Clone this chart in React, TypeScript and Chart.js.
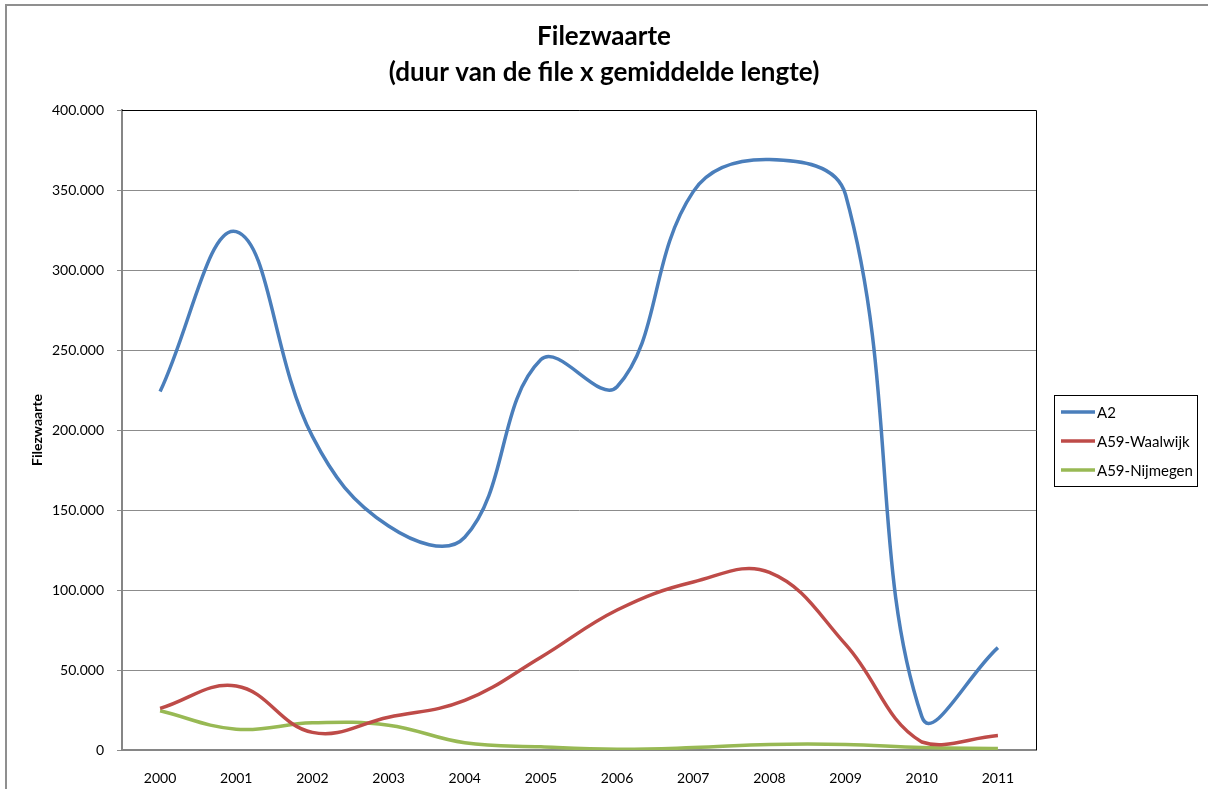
import React, { useEffect, useRef } from 'react';
import { Chart, registerables } from 'chart.js';

Chart.register(...registerables);

const years = ['2000', '2001', '2002', '2003', '2004', '2005', '2006', '2007', '2008', '2009', '2010', '2011'];
const a2Values = [224000, 324000, 196000, 140000, 133000, 244000, 227000, 349000, 369000, 347000, 21000, 64000];
const waalwijkValues = [26000, 40000, 11000, 20500, 31000, 58000, 87500, 105000, 111000, 66000, 5000, 9000];
const nijmegenValues = [24500, 13000, 17000, 15500, 4500, 2000, 500, 1500, 3500, 3500, 1500, 1000];
const seriesNames = ['A2', 'A59-Waalwijk', 'A59-Nijmegen'];
const seriesColors = ['#4A7EBB', '#BE4B48', '#98B954'];
const titleLines = ['Filezwaarte', '(duur van de file x gemiddelde lengte)'];
const yAxisTitle = 'Filezwaarte';
const yMin = 0;
const yMax = 400000;
const yStep = 50000;

const FONT = 'Lato';

const fmt = (v: number) => String(Math.round(v)).replace(/\B(?=(\d{3})+(?!\d))/g, '.');

const framePlugin = {
  id: 'frame',
  beforeDatasetsDraw(chart: any) {
    const { ctx, chartArea } = chart;
    ctx.save();
    ctx.strokeStyle = '#000';
    ctx.lineWidth = 1;
    ctx.beginPath();
    ctx.moveTo(chartArea.left, Math.round(chartArea.top) + 0.5);
    ctx.lineTo(Math.round(chartArea.right) + 0.5, Math.round(chartArea.top) + 0.5);
    ctx.lineTo(Math.round(chartArea.right) + 0.5, chartArea.bottom);
    ctx.stroke();
    ctx.restore();
  },
};

const boxLegendPlugin = {
  id: 'boxLegend',
  afterDraw(chart: any) {
    const { ctx, chartArea } = chart;
    const left = Math.round(chartArea.right) + 18;
    const top = Math.round((chartArea.top + chartArea.bottom) / 2) - 35;
    const w = 143;
    const h = 91;
    ctx.save();
    ctx.strokeStyle = '#000';
    ctx.lineWidth = 1;
    ctx.strokeRect(left + 0.5, top + 0.5, w, h);
    ctx.font = `15px ${FONT}`;
    ctx.textBaseline = 'middle';
    ctx.textAlign = 'left';
    chart.data.datasets.forEach((ds: any, i: number) => {
      const y = top + 17 + i * 29;
      ctx.strokeStyle = ds.borderColor;
      ctx.lineWidth = 3.5;
      ctx.beginPath();
      ctx.moveTo(left + 7, y);
      ctx.lineTo(left + 41, y);
      ctx.stroke();
      ctx.fillStyle = '#000';
      ctx.fillText(ds.label, left + 43, y + 1);
    });
    ctx.restore();
  },
};

export default function App() {
  const canvasRef = useRef<HTMLCanvasElement | null>(null);

  useEffect(() => {
    if (!canvasRef.current) return;
    const seriesData = [a2Values, waalwijkValues, nijmegenValues];
    const chart = new Chart(canvasRef.current, {
      type: 'line',
      data: {
        labels: years,
        datasets: seriesNames.map((name, i) => ({
          label: name,
          data: seriesData[i],
          borderColor: seriesColors[i],
          backgroundColor: seriesColors[i],
          borderWidth: 3.5,
          tension: 0.4,
          pointRadius: 0,
          pointHoverRadius: 0,
          fill: false,
          yAxisID: 'y',
        })),
      },
      options: {
        responsive: false,
        animation: false,
        events: [],
        layout: { padding: 0 },
        plugins: {
          legend: { display: false },
          tooltip: { enabled: false },
          title: {
            display: true,
            text: titleLines,
            color: '#000',
            font: { family: FONT, size: 26, weight: 'bold', lineHeight: '36px' } as any,
            padding: { top: 19, bottom: 19 },
          },
        },
        scales: {
          x: {
            type: 'category',
            offset: true,
            grid: { display: false },
            border: { color: '#868686', width: 2 },
            ticks: { color: '#000', font: { family: FONT, size: 14 }, padding: 12, maxRotation: 0, autoSkip: false },
            afterFit: (s: any) => { s.height = 39; },
          },
          y: {
            type: 'linear',
            position: 'left',
            min: yMin,
            max: yMax,
            ticks: { stepSize: yStep, color: '#000', font: { family: FONT, size: 14 }, padding: 13, callback: (v: any) => fmt(Number(v)) },
            grid: { color: '#8c8c8c', lineWidth: 1, tickLength: 5, drawTicks: true },
            border: { color: '#868686', width: 2 },
            title: {
              display: true,
              text: yAxisTitle,
              color: '#000',
              font: { family: FONT, size: 14, weight: 'bold' },
              padding: { top: 29, bottom: 0 },
            },
            afterFit: (s: any) => { s.width = 122; },
          },
          y2: {
            type: 'linear',
            position: 'right',
            display: true,
            grid: { display: false },
            border: { display: false },
            ticks: { display: false },
            afterFit: (s: any) => { s.width = 172; },
          },
        },
      },
      plugins: [framePlugin, boxLegendPlugin],
    } as any);
    return () => chart.destroy();
  }, []);

  return (
    <div style={{ position: 'fixed', left: 0, top: 0, width: 1208, height: 789, overflow: 'hidden', background: '#fff' }}>
      <div style={{ position: 'absolute', left: 5, top: 4, width: 1400, height: 1000, borderLeft: '2px solid #8f8f8f', borderTop: '2px solid #8f8f8f' }} />
      <canvas ref={canvasRef} width={1208} height={789} style={{ position: 'absolute', left: 0, top: 0, width: 1208, height: 789 }} />
    </div>
  );
}
